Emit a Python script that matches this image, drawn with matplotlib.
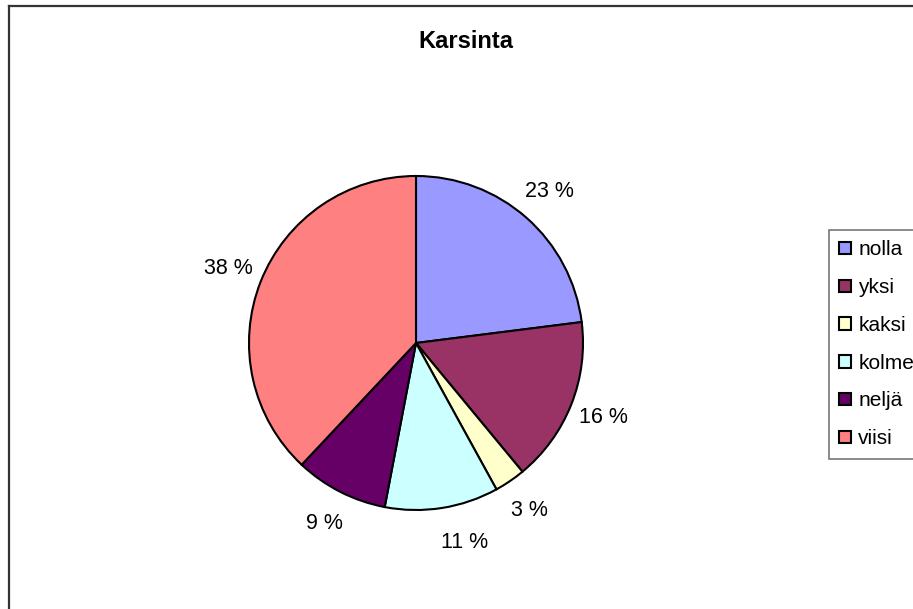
import matplotlib
matplotlib.use('Agg')
import matplotlib.pyplot as plt
from matplotlib.lines import Line2D

plt.rcParams['font.family'] = ['Liberation Sans', 'DejaVu Sans']

categories = ['nolla', 'yksi', 'kaksi', 'kolme', 'neljä', 'viisi']
shares = [23, 16, 3, 11, 9, 38]
colors = ['#9999FF', '#993366', '#FFFFCC', '#CCFFFF', '#660066', '#FF8080']

W, H = 913, 609
fig = plt.figure(figsize=(W / 100, H / 100), dpi=100)

# pie area: centre (416, 343), radius 167 px
cx, cy, r = 416, 343, 167
ax = fig.add_axes([(cx - r) / W, 1 - (cy + r) / H, 2 * r / W, 2 * r / H])
wedges, _, autotexts = ax.pie(
    shares, colors=colors, startangle=90, counterclock=False,
    autopct=lambda p: f'{p:.0f} %', pctdistance=1.21,
    wedgeprops=dict(edgecolor='black', linewidth=1.5),
    textprops=dict(fontsize=15.5, color='black'))
ax.set_xlim(-1, 1)
ax.set_ylim(-1, 1)
ax.set_aspect('equal')

# Excel nudges the small-slice label to the right
x, y = autotexts[3].get_position()
autotexts[3].set_position((x + 0.1, y))

fig.text(466 / W, 1 - 42 / H, 'Karsinta', ha='center', va='center',
         fontsize=17, fontweight='bold')

leg = fig.legend(wedges, categories, loc='upper left',
                 bbox_to_anchor=(829 / W, 1 - 230 / H), fontsize=15,
                 frameon=True, fancybox=False, borderaxespad=0,
                 handlelength=0.55, handleheight=0.55, handletextpad=0.35,
                 labelspacing=0.9, borderpad=0.5)
leg.get_frame().set_edgecolor('#555555')
leg.get_frame().set_linewidth(1.2)
for h in leg.legend_handles:
    h.set_edgecolor('black')
    h.set_linewidth(1.5)

# outer chart border (only top and left visible)
fig.add_artist(Line2D([8.5 / W, 8.5 / W], [0, 1 - 5.5 / H],
                      color='#333333', linewidth=1.6, transform=fig.transFigure))
fig.add_artist(Line2D([8.5 / W, 1], [1 - 5.5 / H, 1 - 5.5 / H],
                      color='#333333', linewidth=1.6, transform=fig.transFigure))

fig.savefig('out.png', dpi=100)
